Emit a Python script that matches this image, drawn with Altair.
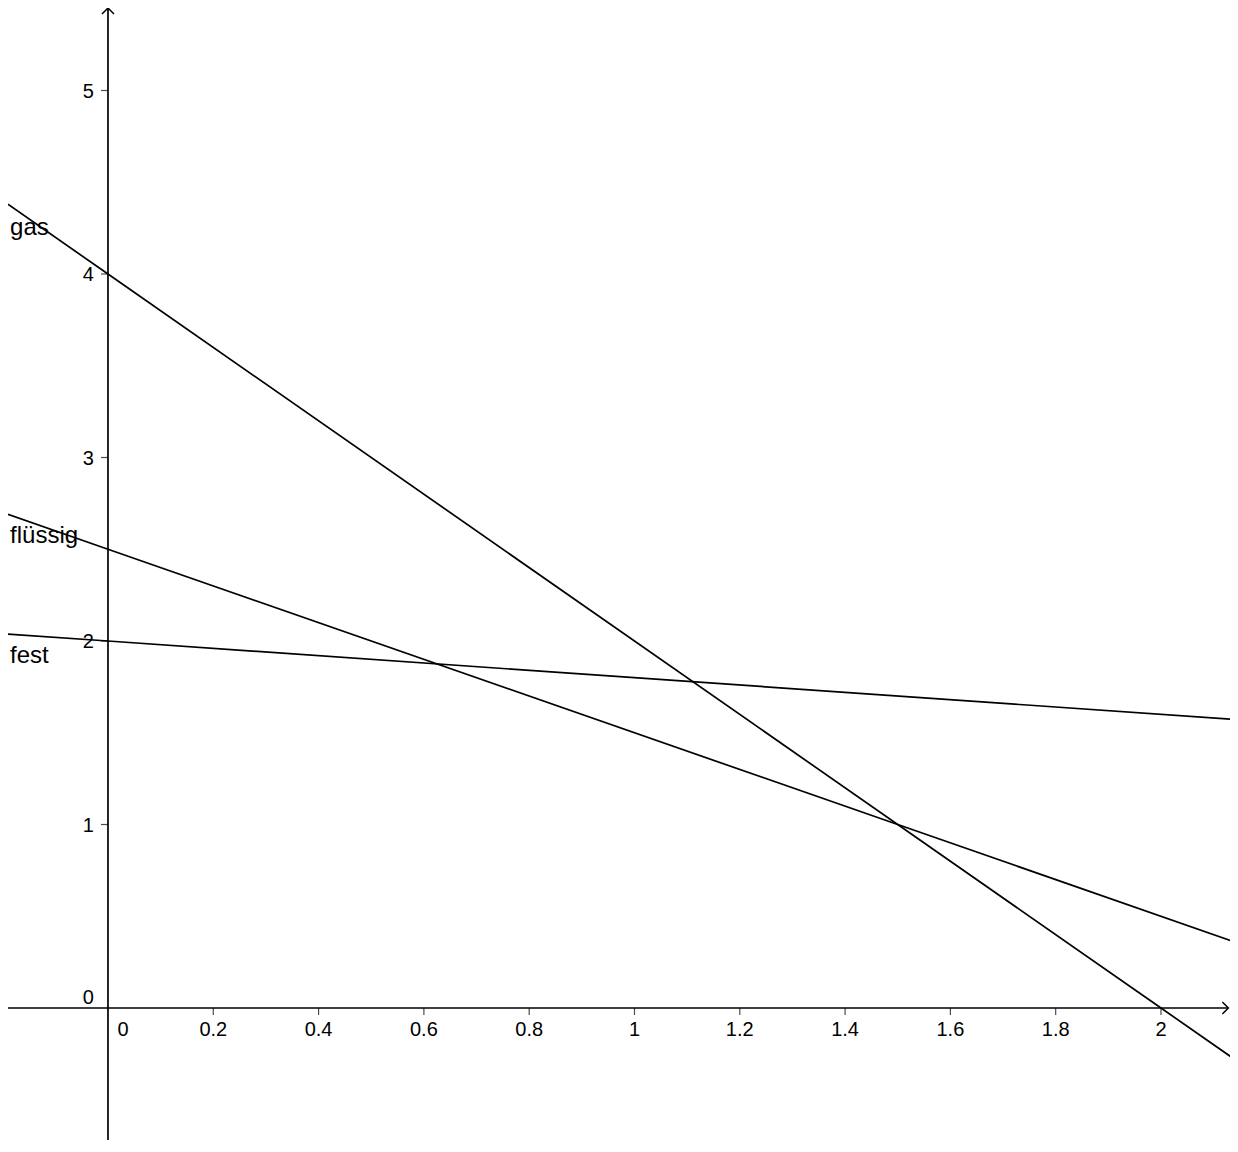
import altair as alt
import pandas as pd

# ---- data ----
series_names = ["gas", "flüssig", "fest"]
gas_x = [-0.19, 0.0, 2.0, 2.146]
gas_y = [4.38, 4.0, 0.0, -0.292]
fl_x = [-0.19, 0.0, 1.5, 2.146]
fl_y = [2.69, 2.5, 1.0, 0.354]
fest_x = [-0.19, 0.0, 2.146]
fest_y = [2.038, 2.0, 1.571]

x_ticks = [0.2, 0.4, 0.6, 0.8, 1.0, 1.2, 1.4, 1.6, 1.8, 2.0]
x_tick_labels = ["0.2", "0.4", "0.6", "0.8", "1", "1.2", "1.4", "1.6", "1.8", "2"]
y_ticks = [1, 2, 3, 4, 5]
y_tick_labels = ["1", "2", "3", "4", "5"]

label_texts = ["gas", "flüssig", "fest"]
label_x = [-0.186, -0.186, -0.186]
label_y = [4.213, 2.534, 1.880]

x_domain = [-0.1899, 2.1311]
y_domain = [-0.7193, 5.4496]
x_axis_end = 2.128

# ---- tables ----
rows = []
for name, xs, ys in [("gas", gas_x, gas_y), ("flüssig", fl_x, fl_y), ("fest", fest_x, fest_y)]:
    for i, (a, b) in enumerate(zip(xs, ys)):
        rows.append({"series": name, "x": a, "y": b, "order": i})
lines_df = pd.DataFrame(rows)

xt_df = pd.DataFrame({"x": x_ticks, "label": x_tick_labels, "y": [0] * len(x_ticks)})
yt_df = pd.DataFrame({"y": y_ticks, "label": y_tick_labels, "x": [0] * len(y_ticks)})
lab_df = pd.DataFrame({"text": label_texts, "x": label_x, "y": label_y})
axes_df = pd.DataFrame({"x": [x_domain[0], 0], "x2": [x_axis_end, 0],
                        "y": [0, y_domain[0]], "y2": [0, y_domain[1]]})
origin_df = pd.DataFrame({"x": [0], "y": [0], "label": ["0"]})
xarrow_df = pd.DataFrame({"x": [x_axis_end], "y": [0]})
yarrow_df = pd.DataFrame({"x": [0], "y": [y_domain[1]]})

xs = alt.Scale(domain=x_domain, nice=False, zero=False)
ys = alt.Scale(domain=y_domain, nice=False, zero=False)
X = lambda f="x": alt.X(f"{f}:Q", scale=xs, axis=None)
Y = lambda f="y": alt.Y(f"{f}:Q", scale=ys, axis=None)

FONT = "Liberation Sans"

lines = alt.Chart(lines_df).mark_line(color="black", strokeWidth=1.7, clip=True).encode(
    x=X(), y=Y(), detail="series:N", order="order:Q")

axes = alt.Chart(axes_df).mark_rule(color="black", strokeWidth=1.7).encode(
    x=X(), x2="x2:Q", y=Y(), y2="y2:Q")

xticks = alt.Chart(xt_df).mark_tick(orient="vertical", size=7, thickness=1.2,
                                    yOffset=3.5, color="black").encode(x=X(), y=Y())
yticks = alt.Chart(yt_df).mark_tick(orient="horizontal", size=7, thickness=1.2,
                                    xOffset=-3.5, color="black").encode(x=X(), y=Y())

xlabels = alt.Chart(xt_df).mark_text(font=FONT, fontSize=20, align="center",
                                     baseline="alphabetic", dy=28, color="black").encode(
    x=X(), y=Y(), text="label:N")
ylabels = alt.Chart(yt_df).mark_text(font=FONT, fontSize=20, align="right",
                                     baseline="alphabetic", dx=-14, dy=7, color="black").encode(
    x=X(), y=Y(), text="label:N")
origin_x = alt.Chart(origin_df).mark_text(font=FONT, fontSize=20, align="center",
                                          baseline="alphabetic", dx=15, dy=28, color="black").encode(
    x=X(), y=Y(), text="label:N")
origin_y = alt.Chart(origin_df).mark_text(font=FONT, fontSize=20, align="right",
                                          baseline="alphabetic", dx=-14, dy=-4, color="black").encode(
    x=X(), y=Y(), text="label:N")

xarrow = alt.Chart(xarrow_df).mark_point(shape="M-1,-1L0,0L-1,1", size=144, filled=False,
                                         color="black", strokeWidth=1.5, opacity=1).encode(x=X(), y=Y())
yarrow = alt.Chart(yarrow_df).mark_point(shape="M-1,1L0,0L1,1", size=144, filled=False,
                                         color="black", strokeWidth=1.5, opacity=1).encode(x=X(), y=Y())

names = alt.Chart(lab_df).mark_text(font=FONT, fontSize=24, align="left",
                                    baseline="alphabetic", color="black").encode(
    x=X(), y=Y(), text="text:N")

chart = alt.layer(lines, axes, xticks, yticks, xlabels, ylabels, origin_x, origin_y,
                  xarrow, yarrow, names).properties(
    width=1222, height=1132,
    autosize=alt.AutoSizeParams(type="none"),
    padding=0,
).configure(background="white").configure_view(stroke=None)

chart.save("out.html", embed_options={"renderer": "svg", "actions": False})
